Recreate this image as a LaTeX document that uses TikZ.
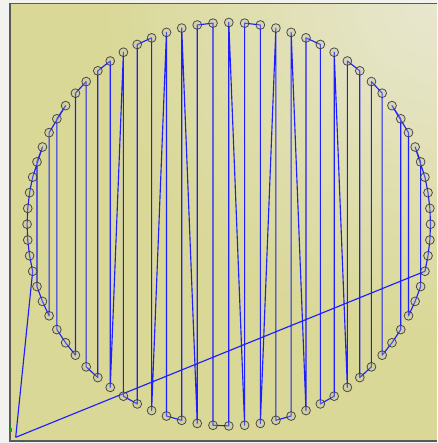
\documentclass[tikz,border=0pt]{standalone}
\usepackage{tikz}
\begin{document}
\begin{tikzpicture}[x=0.75pt,y=-0.75pt]
\definecolor{outerbg}{RGB}{242,242,238}
\definecolor{plotbg}{RGB}{217,216,150}
\definecolor{plothi}{RGB}{232,231,208}
\definecolor{tourblue}{RGB}{30,30,255}
\definecolor{framegray}{RGB}{90,90,90}
\tikzset{
 city/.style={circle, draw=black!80, fill=gray!50, fill opacity=0.3, draw opacity=0.85, minimum size=6.6pt, inner sep=0pt, line width=0.6pt},
 tour/.style={draw=tourblue, line width=0.85pt, line join=round},
 frame/.style={draw=framegray, line width=1pt},
}
\fill[outerbg] (0,0) rectangle (437,443);
\useasboundingbox (0,0) rectangle (437,443);
\fill[plotbg] (10,3.5) rectangle (437,441);
\begin{scope}
\clip (10,3.5) rectangle (437,441);
\shade[inner color=plothi, outer color=plotbg] (437,0) circle (340);
\end{scope}
\draw[frame] (437,3.5) -- (10,3.5) -- (10,441) -- (437,441);
\draw[green!70!black, line width=0.8pt] (11,428) -- (11,432);
\draw[red, line width=0.8pt] (21,441.5) -- (24,441.5);
\foreach \k in {0,...,79}{
 \coordinate (p\k) at ({228.8+201.7*sin(4.5*\k)},{224.2-201.7*cos(4.5*\k)});
}
\coordinate (dep) at (15.7,437.3);
\draw[tour] (dep) -- (p23) -- (p22) -- (p21) -- (p20) -- (p19) -- (p18) -- (p17) -- (p15) -- (p16) -- (p24) -- (p25) -- (p26) -- (p14) -- (p12) -- (p13) -- (p27) -- (p28) -- (p29) -- (p11) -- (p10) -- (p30) -- (p31) -- (p9) -- (p8) -- (p32) -- (p7) -- (p33) -- (p34) -- (p6) -- (p5) -- (p35) -- (p4) -- (p36) -- (p37) -- (p3) -- (p38) -- (p2) -- (p1) -- (p39) -- (p0) -- (p40) -- (p41) -- (p79) -- (p78) -- (p42) -- (p77) -- (p43) -- (p44) -- (p76) -- (p45) -- (p75) -- (p74) -- (p46) -- (p47) -- (p73) -- (p48) -- (p72) -- (p71) -- (p49) -- (p50) -- (p70) -- (p69) -- (p51) -- (p52) -- (p53) -- (p67) -- (p68) -- (p66) -- (p54) -- (p55) -- (p56) -- (p64) -- (p65) -- (p63) -- (p62) -- (p61) -- (p60) -- (p59) -- (p58) -- (p57) -- (dep);
\foreach \k in {0,...,79}{
 \node[city] (c\k) at (p\k) {};
}
\end{tikzpicture}
\end{document}
